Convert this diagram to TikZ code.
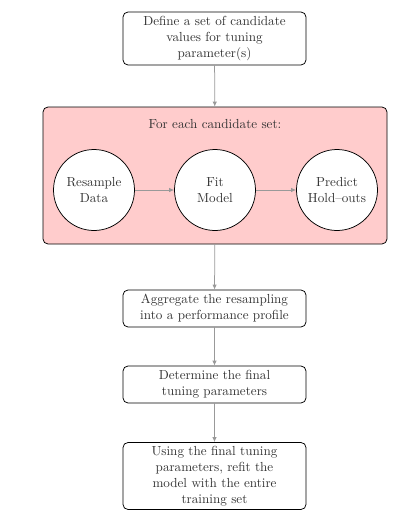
\documentclass[tikz,border=0pt]{standalone}
\usepackage{xcolor}
\usetikzlibrary{arrows.meta}
\tikzset{every node/.style={text=black!80, align=center, font=\fontsize{10.5}{12.8}\selectfont},
         stepbox/.style={draw=black, line width=0.6pt, rounded corners=4pt, fill=white,
                         minimum width=146.4pt, inner sep=0pt},
         loopbox/.style={draw=black, line width=0.6pt, rounded corners=4pt, fill=red!20,
                         minimum width=275.2pt, minimum height=109.6pt, inner sep=0pt},
         task/.style={draw=black, line width=0.6pt, circle, fill=white,
                      minimum size=64.8pt, inner sep=0pt},
         flow/.style={draw=black!40, line width=0.6pt, -{Latex[length=4pt,width=3.5pt]}},
         }
\begin{document}
\begin{tikzpicture}[x=0.8pt, y=-0.8pt]
\useasboundingbox (0,0) rectangle (418,517);
% outer steps
\node[stepbox, minimum height=42.4pt] (define) at (214.5,38.5)
    {Define a set of candidate\\values for tuning\\parameter(s)};
\node[loopbox] (loop) at (215,175.5) {};
\node (title) at (215,124) {For each candidate set:};
% inner loop
\node[task] (resample) at (94,190) {Resample\\Data};
\node[task] (fit) at (215,190) {Fit\\Model};
\node[task] (predict) at (337,190) {Predict\\Hold--outs};
\node[stepbox, minimum height=29.6pt] (aggregate) at (214.5,308.5)
    {Aggregate the resampling\\into a performance profile};
\node[stepbox, minimum height=29.6pt] (determine) at (214.5,384.5)
    {Determine the final\\tuning parameters};
\node[stepbox, minimum height=53.6pt] (refit) at (214.5,476)
    {Using the final tuning\\parameters, refit the\\model with the entire\\training set};
% connectors
\draw[flow] (define) -- (loop);
\draw[flow] (resample) -- (fit);
\draw[flow] (fit) -- (predict);
\draw[flow] (loop) -- (aggregate);
\draw[flow] (aggregate) -- (determine);
\draw[flow] (determine) -- (refit);
\end{tikzpicture}
\end{document}
